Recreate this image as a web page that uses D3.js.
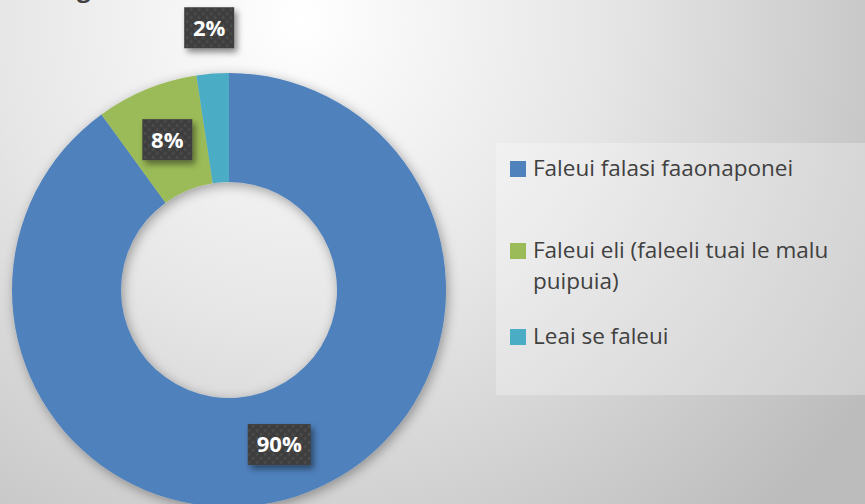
<!DOCTYPE html>
<html>
<head>
<meta charset="utf-8">
<script src="https://cdn.jsdelivr.net/npm/d3@7"></script>
<style>
html,body{margin:0;padding:0;overflow:hidden;}
svg{display:block;}
</style>
</head>
<body>
<svg id="chart" width="865" height="504"></svg>
<script>
const categories = ["Faleui falasi faaonaponei", "Faleui eli (faleeli tuai le malu puipuia)", "Leai se faleui"];
const legendLines = [["Faleui falasi faaonaponei"], ["Faleui eli (faleeli tuai le malu", "puipuia)"], ["Leai se faleui"]];
const values = [90, 7.6, 2.4];
const labels = ["90%", "8%", "2%"];
const colors = ["#4F81BD", "#9BBB59", "#4BACC6"];

const W = 865, H = 504;
const svg = d3.select("#chart");
const defs = svg.append("defs");

// background gradient
const bg = defs.append("radialGradient").attr("id","bg")
  .attr("gradientUnits","userSpaceOnUse").attr("cx",300).attr("cy",20).attr("r",680);
bg.append("stop").attr("offset","0").attr("stop-color","#ffffff");
bg.append("stop").attr("offset","0.45").attr("stop-color","#e6e6e6");
bg.append("stop").attr("offset","1").attr("stop-color","#bcbcbc");
svg.append("rect").attr("width",W).attr("height",H).attr("fill","url(#bg)");

// shadows
const sh = defs.append("filter").attr("id","ringShadow").attr("x","-20%").attr("y","-20%").attr("width","140%").attr("height","140%");
sh.append("feDropShadow").attr("dx",2).attr("dy",3).attr("stdDeviation",6).attr("flood-color","#000").attr("flood-opacity",0.35);
const lsh = defs.append("filter").attr("id","lblShadow").attr("x","-30%").attr("y","-30%").attr("width","170%").attr("height","170%");
lsh.append("feDropShadow").attr("dx",3).attr("dy",4).attr("stdDeviation",3).attr("flood-color","#000").attr("flood-opacity",0.45);

// dot pattern for labels
const pat = defs.append("pattern").attr("id","dots").attr("patternUnits","userSpaceOnUse").attr("width",8).attr("height",8);
pat.append("rect").attr("width",8).attr("height",8).attr("fill","#3e3e3e");
pat.append("circle").attr("cx",2).attr("cy",2).attr("r",1.4).attr("fill","#4e4e4e");
pat.append("circle").attr("cx",6).attr("cy",6).attr("r",1.4).attr("fill","#4e4e4e");

// title (cut off at top of picture, as in the reference)
const title = svg.append("g").attr("fill","#404040").style("font-family","'Open Sans', sans-serif").style("font-weight","700").style("font-size","24px");
title.append("text").attr("x",77).attr("y",-3).text("g");
title.append("text").attr("x",465).attr("y",-3).text(",");

// legend box
svg.append("rect").attr("x",496).attr("y",143).attr("width",W-496).attr("height",252)
  .attr("fill","#ffffff").attr("fill-opacity",0.28);

// donut
const cx = 229, cy = 290, outerR = 217, innerR = 108;
const pie = d3.pie().sort(null).value(d => d)(values);
const arc = d3.arc().innerRadius(innerR).outerRadius(outerR);
const g = svg.append("g").attr("transform",`translate(${cx},${cy})`);
g.append("g").attr("filter","url(#ringShadow)")
  .selectAll("path").data(pie).join("path")
  .attr("d",arc).attr("fill",(d,i)=>colors[i]);

// labels
const labelArcIn = d3.arc().innerRadius(innerR).outerRadius(outerR);
const labelArcOut = d3.arc().innerRadius(outerR+46).outerRadius(outerR+46);
const lab = g.append("g").style("font-family","'Open Sans', sans-serif").style("font-weight","700").style("font-size","22px");
pie.forEach((d,i) => {
  const c = (i === 2 ? labelArcOut : labelArcIn).centroid(d);
  const bw = labels[i].length === 3 ? 63 : 50, bh = 41;
  const lg = lab.append("g").attr("transform",`translate(${c[0]},${c[1]})`);
  lg.append("rect").attr("x",-bw/2).attr("y",-bh/2).attr("width",bw).attr("height",bh)
    .attr("fill","url(#dots)").attr("filter","url(#lblShadow)");
  lg.append("text").attr("text-anchor","middle").attr("dy","0.36em").attr("fill","#ffffff").text(labels[i]);
});

// legend
const leg = svg.append("g").style("font-family","'Open Sans', sans-serif").style("font-size","22.5px").attr("fill","#404040");
const rowY = [176, 258, 344];
categories.forEach((c,i) => {
  leg.append("rect").attr("x",510).attr("y",rowY[i]-15).attr("width",16).attr("height",16).attr("fill",colors[i]);
  const t = leg.append("text").attr("x",533).attr("y",rowY[i]);
  legendLines[i].forEach((ln,j) => {
    t.append("tspan").attr("x",533).attr("dy", j === 0 ? 0 : 31).text(ln);
  });
});
</script>
</body>
</html>
